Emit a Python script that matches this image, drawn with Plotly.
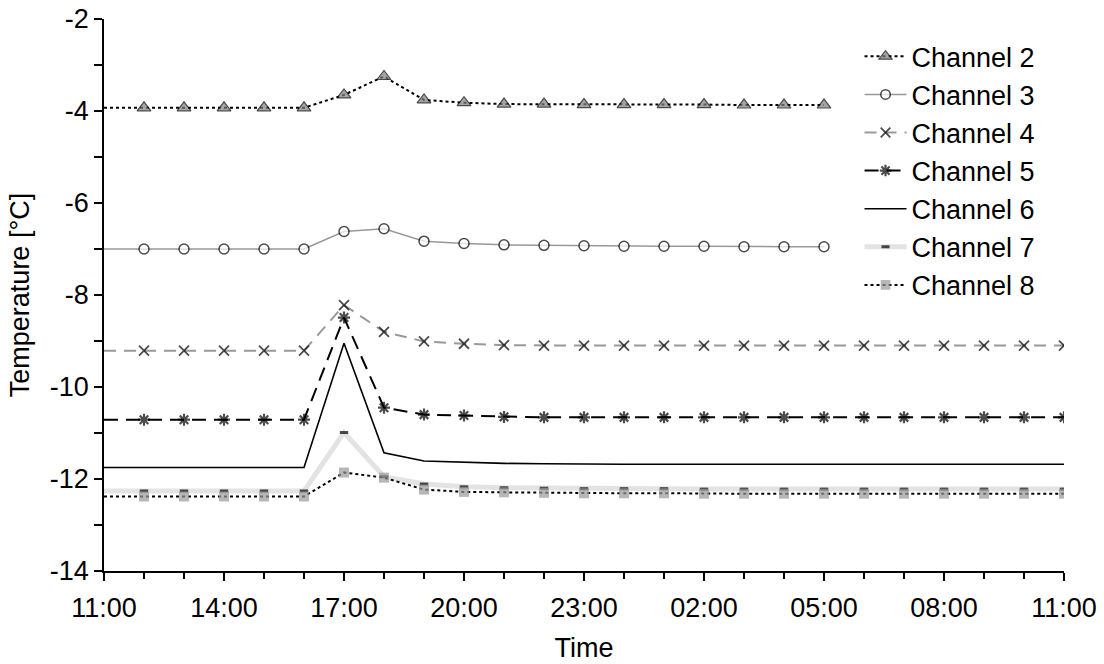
import plotly.graph_objects as go

# hours elapsed since 11:00
hours = list(range(25))
tick_hours = [0, 3, 6, 9, 12, 15, 18, 21, 24]
tick_labels = ["11:00", "14:00", "17:00", "20:00", "23:00", "02:00", "05:00", "08:00", "11:00"]
y_ticks = [-14, -12, -10, -8, -6, -4, -2]
y_labels = ["-14", "-12", "-10", "-8", "-6", "-4", "-2"]

ch2 = [-3.93, -3.93, -3.93, -3.93, -3.93, -3.93, -3.65, -3.25, -3.76, -3.82, -3.85, -3.85,
       -3.86, -3.86, -3.86, -3.86, -3.87, -3.87, -3.87]
ch3 = [-7.00, -7.00, -7.00, -7.00, -7.00, -7.00, -6.62, -6.56, -6.83, -6.88, -6.91, -6.92,
       -6.93, -6.94, -6.94, -6.94, -6.95, -6.95, -6.95]
ch4 = [-9.21, -9.21, -9.21, -9.21, -9.21, -9.21, -8.22, -8.80, -9.01, -9.06, -9.09, -9.10,
       -9.10, -9.10, -9.10, -9.10, -9.10, -9.10, -9.10, -9.10, -9.10, -9.10, -9.10, -9.10, -9.10]
ch5 = [-10.71, -10.71, -10.71, -10.71, -10.71, -10.71, -8.49, -10.45, -10.60, -10.62, -10.65, -10.66,
       -10.66, -10.66, -10.66, -10.66, -10.66, -10.66, -10.66, -10.66, -10.66, -10.66, -10.66, -10.66, -10.66]
ch6 = [-11.75, -11.75, -11.75, -11.75, -11.75, -11.75, -9.05, -11.43, -11.61, -11.64, -11.66, -11.67,
       -11.68, -11.68, -11.68, -11.68, -11.68, -11.68, -11.68, -11.68, -11.68, -11.68, -11.68, -11.68, -11.68]
ch7 = [-12.26, -12.26, -12.26, -12.26, -12.26, -12.26, -10.99, -11.95, -12.11, -12.17, -12.19, -12.20,
       -12.21, -12.21, -12.21, -12.22, -12.22, -12.22, -12.22, -12.22, -12.22, -12.22, -12.22, -12.22, -12.22]
ch8 = [-12.38, -12.38, -12.38, -12.38, -12.38, -12.38, -11.86, -11.97, -12.23, -12.28, -12.29, -12.30,
       -12.31, -12.31, -12.31, -12.32, -12.32, -12.32, -12.32, -12.32, -12.32, -12.32, -12.32, -12.32, -12.32]

FONT = "Liberation Sans, Arial, sans-serif"


def sizes(vals, s):
    return [0] + [s] * (len(vals) - 1)


fig = go.Figure()
fig.add_trace(go.Scatter(
    x=hours[:len(ch2)], y=ch2, name="Channel 2", mode="lines+markers",
    line=dict(color="black", width=2, dash="dot"),
    marker=dict(symbol="triangle-up", size=sizes(ch2, 12), color="#808080",
                line=dict(color="black", width=1.2))))
fig.add_trace(go.Scatter(
    x=hours[:len(ch3)], y=ch3, name="Channel 3", mode="lines+markers",
    line=dict(color="#999999", width=1.5),
    marker=dict(symbol="circle", size=sizes(ch3, 10), color="white",
                line=dict(color="black", width=1.5))))
fig.add_trace(go.Scatter(
    x=hours, y=ch4, name="Channel 4", mode="lines+markers",
    line=dict(color="#999999", width=2, dash="12px,8px"),
    marker=dict(symbol="x-thin-open", size=sizes(ch4, 10), color="black",
                line=dict(color="black", width=1.8))))
fig.add_trace(go.Scatter(
    x=hours, y=ch5, name="Channel 5", mode="lines+markers",
    line=dict(color="black", width=2, dash="14px,8px"),
    marker=dict(symbol="asterisk-open", size=sizes(ch5, 10), color="black",
                line=dict(color="black", width=2.2))))
fig.add_trace(go.Scatter(
    x=hours, y=ch6, name="Channel 6", mode="lines",
    line=dict(color="black", width=1.6)))
fig.add_trace(go.Scatter(
    x=hours, y=ch7, name="Channel 7", mode="lines+markers",
    line=dict(color="#e3e3e3", width=5),
    marker=dict(symbol="line-ew-open", size=sizes(ch7, 6), color="black",
                line=dict(color="black", width=3))))
fig.add_trace(go.Scatter(
    x=hours, y=ch8, name="Channel 8", mode="lines+markers",
    line=dict(color="black", width=2, dash="dot"),
    marker=dict(symbol="square", size=sizes(ch8, 10), color="#999999",
                line=dict(width=0))))

fig.update_layout(
    width=1104, height=664,
    margin=dict(l=104, r=40, t=19, b=93),
    paper_bgcolor="white", plot_bgcolor="white",
    font=dict(family=FONT, size=27, color="black"),
    showlegend=True,
    legend=dict(x=0.787, y=0.976, xanchor="left", yanchor="top",
                font=dict(family=FONT, size=27, color="black"),
                bgcolor="rgba(0,0,0,0)", itemwidth=42),
    xaxis=dict(range=[0, 24], tickvals=tick_hours, ticktext=tick_labels, automargin=False,
               showgrid=False, zeroline=False, showline=True, linecolor="black", linewidth=1.5,
               ticks="outside", ticklen=8, tickwidth=1.5, tickcolor="black",
               ticklabelstandoff=4,
               minor=dict(dtick=1, tick0=0, ticks="outside", ticklen=6, tickwidth=1.5,
                          tickcolor="black", showgrid=False),
               title=dict(text="Time", font=dict(size=27), standoff=16),
               tickfont=dict(size=27)),
    yaxis=dict(range=[-14, -2], tickvals=y_ticks, ticktext=y_labels, automargin=False,
               showgrid=False, zeroline=False, showline=True, linecolor="black", linewidth=1.5,
               ticks="outside", ticklen=8, tickwidth=1.5, tickcolor="black",
               minor=dict(dtick=1, tick0=0, ticks="outside", ticklen=8, tickwidth=1.5,
                          tickcolor="black", showgrid=False),
               title=dict(text="Temperature [°C]", font=dict(size=27), standoff=12),
               tickfont=dict(size=27)),
)

fig.write_html("out.html")
